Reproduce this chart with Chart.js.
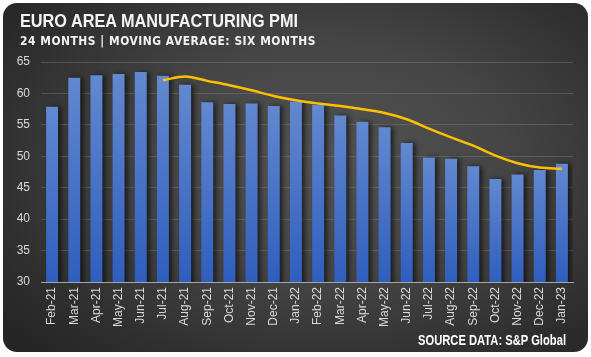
<!DOCTYPE html>
<html><head><meta charset="utf-8">
<script src="https://cdn.jsdelivr.net/npm/chart.js@4"></script>
<style>
html,body{margin:0;padding:0;background:#fff;width:591px;height:357px;overflow:hidden}
#card{position:absolute;left:3px;top:3px;width:585px;height:349px;border-radius:14px;
background:radial-gradient(ellipse 70% 75% at 55% 45%, #545454 0%, #454545 45%, #303030 80%, #262626 100%);}
#c{position:absolute;left:0;top:0}
.t{position:absolute;color:#fff;white-space:nowrap;transform-origin:0 0;line-height:1}
#title{left:20px;top:10px;font:bold 19px "Liberation Sans",Arial,sans-serif;color:#f4f4f4}
#sub{left:20px;top:33px;font:bold 12.5px "DejaVu Sans","Liberation Sans",sans-serif;letter-spacing:0.6px;color:#f2f2f2}
#src{left:418px;top:331px;font:bold 15px "Liberation Sans",Arial,sans-serif}
</style></head>
<body>
<div id="card"></div>
<canvas id="c" width="591" height="357"></canvas>
<div class="t" id="title" data-w="278">EURO AREA MANUFACTURING PMI</div>
<div class="t" id="sub" data-w="296">24 MONTHS | MOVING AVERAGE: SIX MONTHS</div>
<div class="t" id="src" data-w="148">SOURCE DATA: S&amp;P Global</div>
<script>
const categories = ['Feb-21','Mar-21','Apr-21','May-21','Jun-21','Jul-21','Aug-21','Sep-21','Oct-21','Nov-21','Dec-21','Jan-22','Feb-22','Mar-22','Apr-22','May-22','Jun-22','Jul-22','Aug-22','Sep-22','Oct-22','Nov-22','Dec-22','Jan-23'];
const pmiValues = [57.9,62.5,62.9,63.1,63.4,62.8,61.4,58.6,58.3,58.4,58.0,58.7,58.2,56.5,55.5,54.6,52.1,49.8,49.6,48.4,46.4,47.1,47.8,48.8];
const movingAverage = [null,null,null,null,null,62.1,62.7,62.0,61.3,60.5,59.6,58.9,58.4,58.0,57.5,56.9,55.9,54.4,53.0,51.7,50.1,48.9,48.2,48.0];
const yTicks = [30,35,40,45,50,55,60,65];

document.querySelectorAll('.t').forEach(el=>{
  const target = +el.dataset.w, w = el.getBoundingClientRect().width;
  el.style.transform = 'scaleX(' + (target / w) + ')';
});

const shadowPlugin = {
  id:'barShadow',
  beforeDatasetDraw(chart, args){
    if(args.meta.type==='bar'){
      const ctx=chart.ctx; ctx.save();
      ctx.shadowColor='rgba(0,0,0,0.6)'; ctx.shadowBlur=5; ctx.shadowOffsetX=3; ctx.shadowOffsetY=0;
    }
  },
  afterDatasetDraw(chart, args){
    if(args.meta.type==='bar'){ chart.ctx.restore(); }
  }
};

new Chart(document.getElementById('c'), {
  data:{
    labels:categories,
    datasets:[
      {type:'line', label:'6M MA', data:movingAverage, borderColor:'#FFC000', borderWidth:2.5,
       pointRadius:0, tension:0.35, fill:false, order:0, spanGaps:false},
      {type:'bar', label:'PMI', data:pmiValues, order:1, categoryPercentage:1, barPercentage:0.54,
       backgroundColor:(ctx)=>{
         const chart=ctx.chart, area=chart.chartArea;
         if(!area || ctx.raw==null) return '#4a72c4';
         const y=chart.scales.y.getPixelForValue(ctx.raw);
         const g=chart.ctx.createLinearGradient(0,y,0,area.bottom);
         g.addColorStop(0,'#6288d0'); g.addColorStop(1,'#2f5ebd');
         return g;
       }}
    ]
  },
  options:{
    responsive:false, animation:false, devicePixelRatio:1,
    layout:{padding:{left:0,top:62,right:18,bottom:0}},
    plugins:{legend:{display:false}, tooltip:{enabled:false}, title:{display:false}},
    scales:{
      x:{
        grid:{display:false, drawTicks:false},
        border:{display:true,color:'#a6a6a6',width:1},
        ticks:{color:'#d9d9d9', font:{family:'"Liberation Sans", Arial, sans-serif', size:12}, minRotation:90, maxRotation:90, padding:5, autoSkip:false},
        afterFit(s){ s.height = 75; }
      },
      y:{
        min:30, max:65,
        afterBuildTicks(s){ s.ticks = yTicks.map(v=>({value:v})); },
        grid:{color:'rgba(140,140,140,0.35)', lineWidth:1, drawTicks:false},
        border:{display:false},
        ticks:{color:'#d9d9d9', font:{family:'"Liberation Sans", Arial, sans-serif', size:12}, padding:11},
        afterFit(s){ s.width = 41; }
      }
    }
  },
  plugins:[shadowPlugin]
});
</script>
</body></html>
